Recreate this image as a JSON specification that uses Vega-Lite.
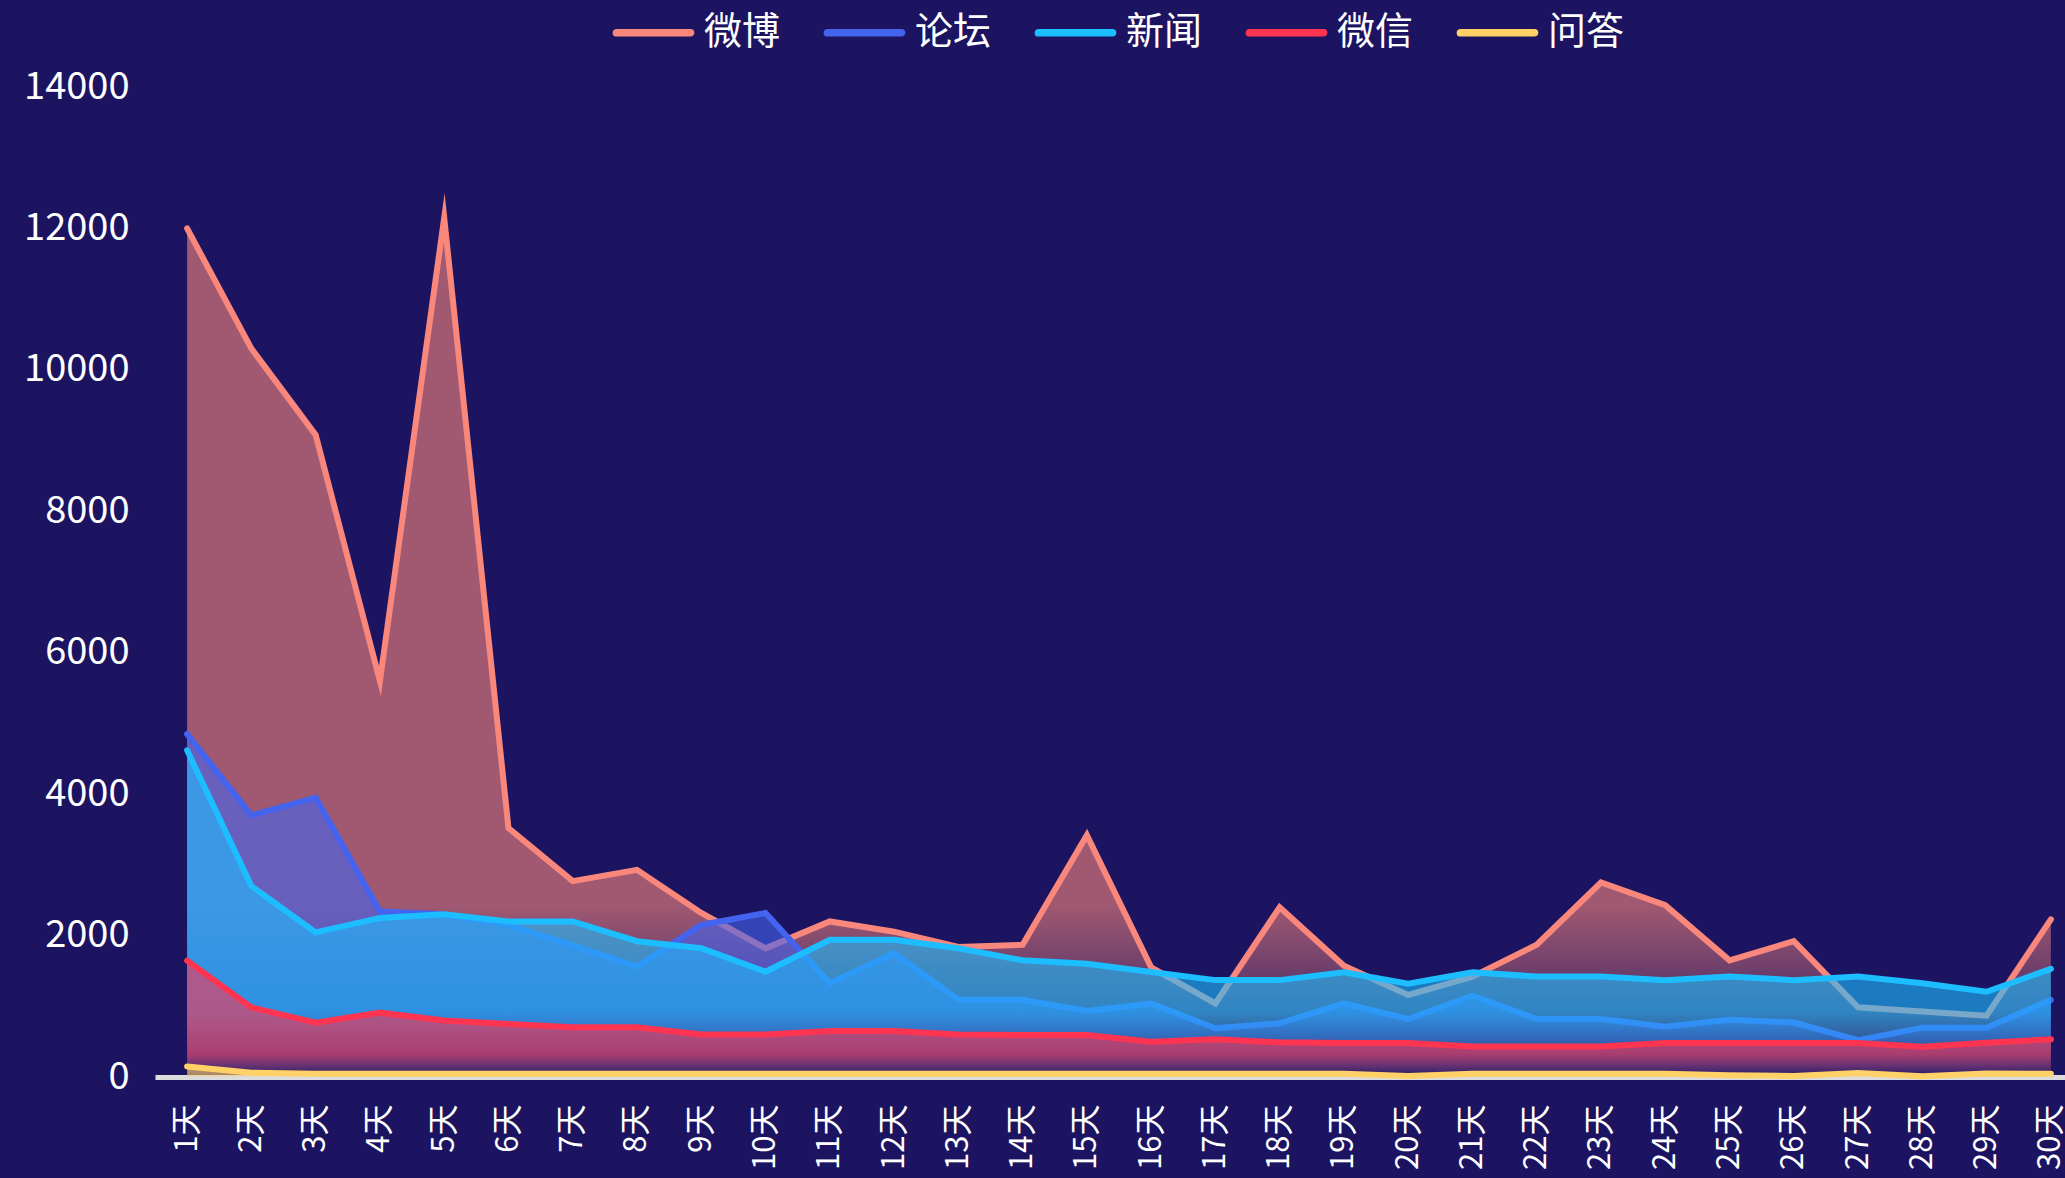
{
  "$schema": "https://vega.github.io/schema/vega-lite/v6.json",
  "autosize": {"type": "none"},
  "padding": {"left": 155, "top": 87, "right": 0, "bottom": 101},
  "width": 1910,
  "height": 990,
  "background": "#1C1461",
  "config": {
    "view": {"stroke": null},
    "font": "Noto Sans CJK SC"
  },
  "data": {
    "values": [
      {"day":1,"series":"微博","value":12000},{"day":2,"series":"微博","value":10300},{"day":3,"series":"微博","value":9080},{"day":4,"series":"微博","value":5600},{"day":5,"series":"微博","value":12150},{"day":6,"series":"微博","value":3520},{"day":7,"series":"微博","value":2770},{"day":8,"series":"微博","value":2930},{"day":9,"series":"微博","value":2320},{"day":10,"series":"微博","value":1820},{"day":11,"series":"微博","value":2200},{"day":12,"series":"微博","value":2055},{"day":13,"series":"微博","value":1840},{"day":14,"series":"微博","value":1870},{"day":15,"series":"微博","value":3420},{"day":16,"series":"微博","value":1550},{"day":17,"series":"微博","value":1040},{"day":18,"series":"微博","value":2400},{"day":19,"series":"微博","value":1575},{"day":20,"series":"微博","value":1160},{"day":21,"series":"微博","value":1420},{"day":22,"series":"微博","value":1870},{"day":23,"series":"微博","value":2750},{"day":24,"series":"微博","value":2430},{"day":25,"series":"微博","value":1650},{"day":26,"series":"微博","value":1920},{"day":27,"series":"微博","value":985},{"day":28,"series":"微博","value":925},{"day":29,"series":"微博","value":868},{"day":30,"series":"微博","value":2230},
      {"day":1,"series":"论坛","value":4850},{"day":2,"series":"论坛","value":3700},{"day":3,"series":"论坛","value":3950},{"day":4,"series":"论坛","value":2340},{"day":5,"series":"论坛","value":2300},{"day":6,"series":"论坛","value":2150},{"day":7,"series":"论坛","value":1860},{"day":8,"series":"论坛","value":1560},{"day":9,"series":"论坛","value":2150},{"day":10,"series":"论坛","value":2320},{"day":11,"series":"论坛","value":1325},{"day":12,"series":"论坛","value":1750},{"day":13,"series":"论坛","value":1095},{"day":14,"series":"论坛","value":1092},{"day":15,"series":"论坛","value":935},{"day":16,"series":"论坛","value":1040},{"day":17,"series":"论坛","value":690},{"day":18,"series":"论坛","value":760},{"day":19,"series":"论坛","value":1040},{"day":20,"series":"论坛","value":820},{"day":21,"series":"论坛","value":1150},{"day":22,"series":"论坛","value":820},{"day":23,"series":"论坛","value":820},{"day":24,"series":"论坛","value":710},{"day":25,"series":"论坛","value":810},{"day":26,"series":"论坛","value":770},{"day":27,"series":"论坛","value":520},{"day":28,"series":"论坛","value":698},{"day":29,"series":"论坛","value":698},{"day":30,"series":"论坛","value":1090},
      {"day":1,"series":"新闻","value":4620},{"day":2,"series":"新闻","value":2700},{"day":3,"series":"新闻","value":2045},{"day":4,"series":"新闻","value":2250},{"day":5,"series":"新闻","value":2300},{"day":6,"series":"新闻","value":2200},{"day":7,"series":"新闻","value":2200},{"day":8,"series":"新闻","value":1920},{"day":9,"series":"新闻","value":1820},{"day":10,"series":"新闻","value":1490},{"day":11,"series":"新闻","value":1940},{"day":12,"series":"新闻","value":1940},{"day":13,"series":"新闻","value":1820},{"day":14,"series":"新闻","value":1650},{"day":15,"series":"新闻","value":1600},{"day":16,"series":"新闻","value":1485},{"day":17,"series":"新闻","value":1370},{"day":18,"series":"新闻","value":1370},{"day":19,"series":"新闻","value":1480},{"day":20,"series":"新闻","value":1320},{"day":21,"series":"新闻","value":1480},{"day":22,"series":"新闻","value":1420},{"day":23,"series":"新闻","value":1420},{"day":24,"series":"新闻","value":1370},{"day":25,"series":"新闻","value":1420},{"day":26,"series":"新闻","value":1370},{"day":27,"series":"新闻","value":1420},{"day":28,"series":"新闻","value":1325},{"day":29,"series":"新闻","value":1206},{"day":30,"series":"新闻","value":1530},
      {"day":1,"series":"微信","value":1645},{"day":2,"series":"微信","value":985},{"day":3,"series":"微信","value":768},{"day":4,"series":"微信","value":910},{"day":5,"series":"微信","value":800},{"day":6,"series":"微信","value":750},{"day":7,"series":"微信","value":705},{"day":8,"series":"微信","value":705},{"day":9,"series":"微信","value":600},{"day":10,"series":"微信","value":600},{"day":11,"series":"微信","value":650},{"day":12,"series":"微信","value":650},{"day":13,"series":"微信","value":600},{"day":14,"series":"微信","value":594},{"day":15,"series":"微信","value":594},{"day":16,"series":"微信","value":499},{"day":17,"series":"微信","value":533},{"day":18,"series":"微信","value":490},{"day":19,"series":"微信","value":480},{"day":20,"series":"微信","value":480},{"day":21,"series":"微信","value":430},{"day":22,"series":"微信","value":430},{"day":23,"series":"微信","value":430},{"day":24,"series":"微信","value":480},{"day":25,"series":"微信","value":480},{"day":26,"series":"微信","value":480},{"day":27,"series":"微信","value":480},{"day":28,"series":"微信","value":429},{"day":29,"series":"微信","value":485},{"day":30,"series":"微信","value":533},
      {"day":1,"series":"问答","value":150},{"day":2,"series":"问答","value":60},{"day":3,"series":"问答","value":45},{"day":4,"series":"问答","value":45},{"day":5,"series":"问答","value":45},{"day":6,"series":"问答","value":45},{"day":7,"series":"问答","value":45},{"day":8,"series":"问答","value":45},{"day":9,"series":"问答","value":45},{"day":10,"series":"问答","value":45},{"day":11,"series":"问答","value":45},{"day":12,"series":"问答","value":45},{"day":13,"series":"问答","value":45},{"day":14,"series":"问答","value":45},{"day":15,"series":"问答","value":45},{"day":16,"series":"问答","value":45},{"day":17,"series":"问答","value":45},{"day":18,"series":"问答","value":45},{"day":19,"series":"问答","value":45},{"day":20,"series":"问答","value":15},{"day":21,"series":"问答","value":45},{"day":22,"series":"问答","value":45},{"day":23,"series":"问答","value":45},{"day":24,"series":"问答","value":45},{"day":25,"series":"问答","value":25},{"day":26,"series":"问答","value":15},{"day":27,"series":"问答","value":55},{"day":28,"series":"问答","value":10},{"day":29,"series":"问答","value":50},{"day":30,"series":"问答","value":45}
    ]
  },
  "encoding": {
    "x": {
      "field": "day", "type": "quantitative",
      "scale": {"domain": [0.5, 30.22], "nice": false, "zero": false},
      "axis": {
        "values": [1,2,3,4,5,6,7,8,9,10,11,12,13,14,15,16,17,18,19,20,21,22,23,24,25,26,27,28,29,30],
        "labelExpr": "datum.value + '天'",
        "labelAngle": -90, "labelFontSize": 31, "labelColor": "#ffffff",
        "labelPadding": 27, "ticks": false, "tickSize": 0,
        "domainColor": "#DCDCDC", "domainWidth": 5, "grid": false, "title": null,
        "labelOverlap": false, "labelFlush": false, "labelBound": false
      }
    },
    "y": {
      "field": "value", "type": "quantitative",
      "scale": {"domain": [0, 14000], "nice": false},
      "axis": {
        "values": [0,2000,4000,6000,8000,10000,12000,14000],
        "format": "d",
        "labelFontSize": 38, "labelColor": "#ffffff", "labelPadding": 26,
        "ticks": false, "tickSize": 0, "domain": false, "grid": false, "title": null
      }
    }
  },
  "layer": [
    {"transform": [{"filter": "datum.series === '微博'"}],
     "mark": {"type": "area", "fill": {"gradient": "linear", "x1": 0, "y1": 0, "x2": 0, "y2": 1, "stops": [{"offset": 0, "color": "rgba(249,135,124,0.6)"}, {"offset": 0.8, "color": "rgba(249,135,124,0.6)"}, {"offset": 1, "color": "rgba(249,135,124,0)"}]}}},
    {"transform": [{"filter": "datum.series === '微博'"}],
     "mark": {"type": "line", "strokeWidth": 6, "strokeCap": "round", "strokeJoin": "miter", "strokeMiterLimit": 10},
     "encoding": {"color": {"field": "series", "type": "nominal", "scale": {"domain": ["微博","论坛","新闻","微信","问答"], "range": ["#F9877C","#4463EE","#1DBEFF","#FF3451","#FFD166"]},
       "legend": {"title": null, "orient": "none", "legendX": 458, "legendY": -95, "direction": "horizontal", "symbolType": "M-1,-0.01L1,-0.01A0.01,0.01 0 0 1 1,0.01L-1,0.01A0.01,0.01 0 0 1 -1,-0.01Z", "symbolSize": 5476, "symbolStrokeWidth": 7, "labelFontSize": 38, "labelColor": "#ffffff", "labelOffset": 10, "columnPadding": 32, "padding": 0}}}},
    {"transform": [{"filter": "datum.series === '论坛'"}],
     "mark": {"type": "area", "fill": {"gradient": "linear", "x1": 0, "y1": 0, "x2": 0, "y2": 1, "stops": [{"offset": 0, "color": "rgba(68,99,238,0.6)"}, {"offset": 0.8, "color": "rgba(68,99,238,0.6)"}, {"offset": 1, "color": "rgba(68,99,238,0)"}]}}},
    {"transform": [{"filter": "datum.series === '论坛'"}],
     "mark": {"type": "line", "strokeWidth": 6, "strokeCap": "round", "strokeJoin": "miter", "strokeMiterLimit": 10},
     "encoding": {"color": {"field": "series", "type": "nominal", "scale": {"domain": ["微博","论坛","新闻","微信","问答"], "range": ["#F9877C","#4463EE","#1DBEFF","#FF3451","#FFD166"]},
       "legend": {"title": null, "orient": "none", "legendX": 458, "legendY": -95, "direction": "horizontal", "symbolType": "M-1,-0.01L1,-0.01A0.01,0.01 0 0 1 1,0.01L-1,0.01A0.01,0.01 0 0 1 -1,-0.01Z", "symbolSize": 5476, "symbolStrokeWidth": 7, "labelFontSize": 38, "labelColor": "#ffffff", "labelOffset": 10, "columnPadding": 32, "padding": 0}}}},
    {"transform": [{"filter": "datum.series === '新闻'"}],
     "mark": {"type": "area", "fill": {"gradient": "linear", "x1": 0, "y1": 0, "x2": 0, "y2": 1, "stops": [{"offset": 0, "color": "rgba(29,190,255,0.6)"}, {"offset": 0.8, "color": "rgba(29,190,255,0.6)"}, {"offset": 1, "color": "rgba(29,190,255,0)"}]}}},
    {"transform": [{"filter": "datum.series === '新闻'"}],
     "mark": {"type": "line", "strokeWidth": 6, "strokeCap": "round", "strokeJoin": "miter", "strokeMiterLimit": 10},
     "encoding": {"color": {"field": "series", "type": "nominal", "scale": {"domain": ["微博","论坛","新闻","微信","问答"], "range": ["#F9877C","#4463EE","#1DBEFF","#FF3451","#FFD166"]},
       "legend": {"title": null, "orient": "none", "legendX": 458, "legendY": -95, "direction": "horizontal", "symbolType": "M-1,-0.01L1,-0.01A0.01,0.01 0 0 1 1,0.01L-1,0.01A0.01,0.01 0 0 1 -1,-0.01Z", "symbolSize": 5476, "symbolStrokeWidth": 7, "labelFontSize": 38, "labelColor": "#ffffff", "labelOffset": 10, "columnPadding": 32, "padding": 0}}}},
    {"transform": [{"filter": "datum.series === '微信'"}],
     "mark": {"type": "area", "fill": {"gradient": "linear", "x1": 0, "y1": 0, "x2": 0, "y2": 1, "stops": [{"offset": 0, "color": "rgba(255,52,81,0.6)"}, {"offset": 0.8, "color": "rgba(255,52,81,0.6)"}, {"offset": 1, "color": "rgba(255,52,81,0)"}]}}},
    {"transform": [{"filter": "datum.series === '微信'"}],
     "mark": {"type": "line", "strokeWidth": 6, "strokeCap": "round", "strokeJoin": "miter", "strokeMiterLimit": 10},
     "encoding": {"color": {"field": "series", "type": "nominal", "scale": {"domain": ["微博","论坛","新闻","微信","问答"], "range": ["#F9877C","#4463EE","#1DBEFF","#FF3451","#FFD166"]},
       "legend": {"title": null, "orient": "none", "legendX": 458, "legendY": -95, "direction": "horizontal", "symbolType": "M-1,-0.01L1,-0.01A0.01,0.01 0 0 1 1,0.01L-1,0.01A0.01,0.01 0 0 1 -1,-0.01Z", "symbolSize": 5476, "symbolStrokeWidth": 7, "labelFontSize": 38, "labelColor": "#ffffff", "labelOffset": 10, "columnPadding": 32, "padding": 0}}}},
    {"transform": [{"filter": "datum.series === '问答'"}],
     "mark": {"type": "area", "fill": {"gradient": "linear", "x1": 0, "y1": 0, "x2": 0, "y2": 1, "stops": [{"offset": 0, "color": "rgba(255,209,102,0.6)"}, {"offset": 0.8, "color": "rgba(255,209,102,0.6)"}, {"offset": 1, "color": "rgba(255,209,102,0)"}]}}},
    {"transform": [{"filter": "datum.series === '问答'"}],
     "mark": {"type": "line", "strokeWidth": 6, "strokeCap": "round", "strokeJoin": "miter", "strokeMiterLimit": 10},
     "encoding": {"color": {"field": "series", "type": "nominal", "scale": {"domain": ["微博","论坛","新闻","微信","问答"], "range": ["#F9877C","#4463EE","#1DBEFF","#FF3451","#FFD166"]},
       "legend": {"title": null, "orient": "none", "legendX": 458, "legendY": -95, "direction": "horizontal", "symbolType": "M-1,-0.01L1,-0.01A0.01,0.01 0 0 1 1,0.01L-1,0.01A0.01,0.01 0 0 1 -1,-0.01Z", "symbolSize": 5476, "symbolStrokeWidth": 7, "labelFontSize": 38, "labelColor": "#ffffff", "labelOffset": 10, "columnPadding": 32, "padding": 0}}}}
  ]
}
